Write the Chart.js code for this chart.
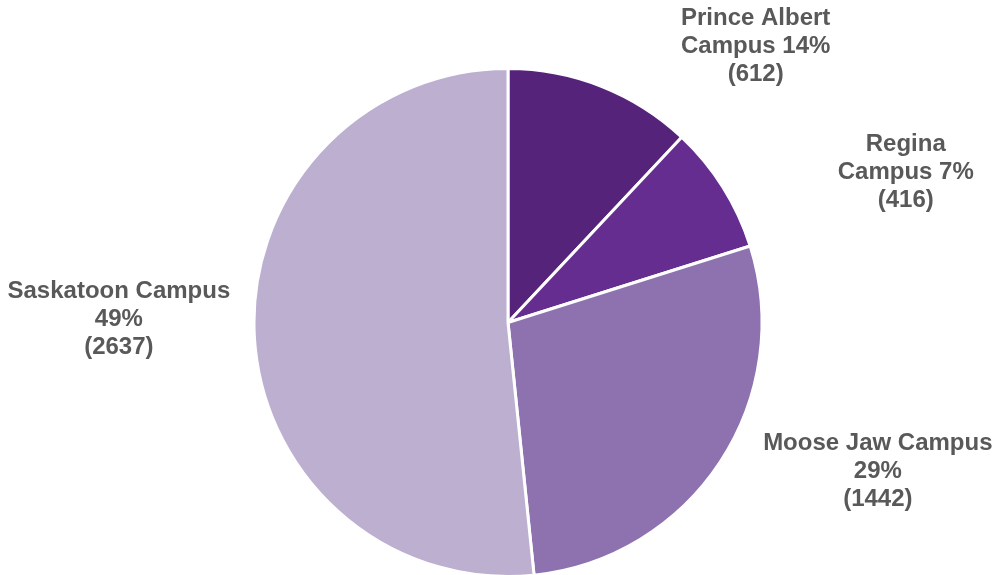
<!DOCTYPE html>
<html>
<head>
<meta charset="utf-8">
<script src="https://cdn.jsdelivr.net/npm/chart.js@4/dist/chart.umd.min.js"></script>
<style>
  html, body { margin: 0; padding: 0; background: #ffffff; overflow: hidden; }
  #wrap { width: 997px; height: 575px; position: relative; overflow: hidden; }
</style>
</head>
<body>
<div id="wrap"><canvas id="c" width="997" height="578"></canvas></div>
<script>
// ---- data ----
const categories = ["Prince Albert Campus", "Regina Campus", "Moose Jaw Campus", "Saskatoon Campus"];
const counts = [612, 416, 1442, 2637];
const percentLabels = ["14%", "7%", "29%", "49%"];
const labelLines = [
  ["Prince Albert", "Campus 14%", "(612)"],
  ["Regina", "Campus 7%", "(416)"],
  ["Moose Jaw Campus", "29%", "(1442)"],
  ["Saskatoon Campus", "49%", "(2637)"]
];
const sliceColors = ["#55237a", "#662d91", "#8e72b0", "#bdafd0"];

// label anchor offsets relative to pie centre, in units of the radius
const labelOffsets = [
  [0.975, -1.088],
  [1.566, -0.591],
  [1.456, 0.588],
  [-1.532, -0.012]
];

const outsideLabels = {
  id: 'outsideLabels',
  afterDatasetsDraw(chart) {
    const ctx = chart.ctx;
    const meta = chart.getDatasetMeta(0);
    ctx.save();
    ctx.font = 'bold 24px "Liberation Sans", Arial, sans-serif';
    ctx.fillStyle = '#595959';
    ctx.textAlign = 'center';
    ctx.textBaseline = 'middle';
    const lh = 28;
    meta.data.forEach((arc, i) => {
      const p = arc.getProps(['x', 'y', 'outerRadius'], true);
      const cx = p.x + labelOffsets[i][0] * p.outerRadius;
      const cy = p.y + labelOffsets[i][1] * p.outerRadius;
      const lines = labelLines[i];
      const y0 = cy - (lines.length - 1) * lh / 2;
      lines.forEach((t, k) => ctx.fillText(t, cx, y0 + k * lh));
    });
    ctx.restore();
  }
};

new Chart(document.getElementById('c'), {
  type: 'pie',
  data: {
    labels: categories,
    datasets: [{
      data: counts,
      backgroundColor: sliceColors,
      borderColor: '#ffffff',
      borderWidth: 3
    }]
  },
  options: {
    responsive: false,
    animation: false,
    layout: { padding: { top: 67, bottom: 0, left: 200, right: 181 } },
    plugins: {
      legend: { display: false },
      tooltip: { enabled: false }
    }
  },
  plugins: [outsideLabels]
});
</script>
</body>
</html>
